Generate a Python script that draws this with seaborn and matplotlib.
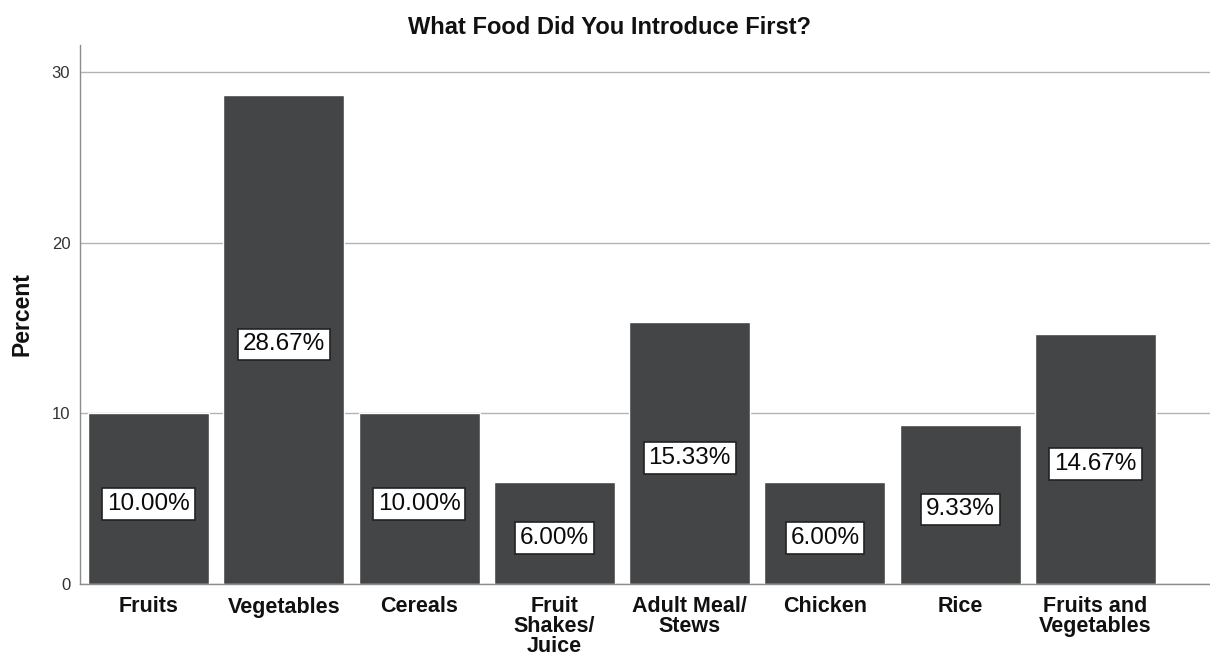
import matplotlib
matplotlib.use("Agg")
import matplotlib.pyplot as plt
import seaborn as sns
import pandas as pd

categories = ["Fruits", "Vegetables", "Cereals", "Fruit\nShakes/\nJuice",
              "Adult Meal/\nStews", "Chicken", "Rice", "Fruits and\nVegetables"]
percent = [10.00, 28.67, 10.00, 6.00, 15.33, 6.00, 9.33, 14.67]
yticks = [0, 10, 20, 30]

df = pd.DataFrame({"Food": categories, "Percent": percent})

sns.set_theme(style="white")
plt.rcParams["font.family"] = ["Liberation Sans", "DejaVu Sans"]

fig = plt.figure(figsize=(12.10, 6.56), dpi=100)
ax = fig.add_axes([80 / 1210, 1 - 584 / 656, 1130 / 1210, (584 - 45) / 656])

sns.barplot(data=df, x="Food", y="Percent", color="#434547", saturation=1,
            width=0.894, ax=ax, zorder=2)

ax.set_xlim(-0.506, 7.846)
ax.set_ylim(0, 31.58)
ax.set_yticks(yticks)
ax.set_yticklabels([str(t) for t in yticks], fontsize=12, color="#333333")
ax.yaxis.grid(True, color="#b3b3b3", linewidth=1.0, zorder=0)
ax.set_axisbelow(True)
ax.tick_params(axis="y", length=3, width=0.8, color="#999999", pad=4)
ax.tick_params(axis="x", length=0, pad=9)
for lbl in ax.get_xticklabels():
    lbl.set_fontweight("bold")
    lbl.set_fontsize(15.5)
    lbl.set_linespacing(0.92)
    lbl.set_color("#111111")

for s in ["top", "right"]:
    ax.spines[s].set_visible(False)
for s in ["left", "bottom"]:
    ax.spines[s].set_color("#8c8c8c")
    ax.spines[s].set_linewidth(1.0)

ax.set_xlabel("")
ax.set_ylabel("Percent", fontsize=16.5, fontweight="bold", va="center", color="#111111")
ax.yaxis.set_label_coords((22 - 80) / 1130, 0.5)

for i, v in enumerate(percent):
    ax.text(i, v / 2 - 0.3, f"{v:.2f}%", ha="center", va="center", fontsize=17.5,
            color="#0a0a0a", zorder=3,
            bbox=dict(boxstyle="square,pad=0.2", facecolor="white",
                      edgecolor="#222222", linewidth=1.2))

fig.text(609 / 1210, 1 - 27 / 656, "What Food Did You Introduce First?",
         ha="center", va="center", fontsize=17, fontweight="bold", color="#111111")

fig.savefig("out.png", dpi=100, facecolor="white")
